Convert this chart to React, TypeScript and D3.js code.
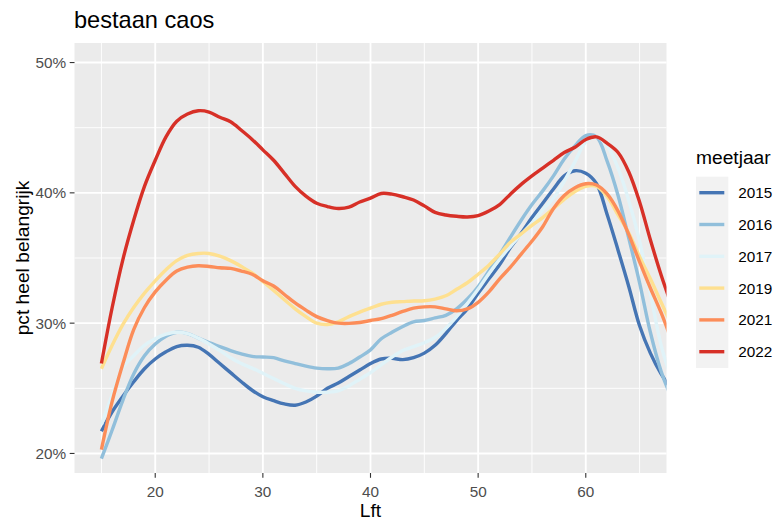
import React from 'react';
import * as d3 from 'd3';

const ages = [15, 16, 17, 18, 19, 20, 21, 22, 23, 24, 25, 26, 27, 28, 29, 30, 31, 32, 33, 34, 35, 36, 37, 38, 39, 40, 41, 42, 43, 44, 45, 46, 47, 48, 49, 50, 51, 52, 53, 54, 55, 56, 57, 58, 59, 60, 61, 62, 63, 64, 65, 66, 67, 68];

const v2015 = [21.7, 23.2, 24.4, 25.5, 26.5, 27.25, 27.8, 28.2, 28.3, 28.15, 27.6, 26.9, 26.2, 25.5, 24.85, 24.35, 24.05, 23.8, 23.7, 23.95, 24.4, 25.0, 25.4, 25.9, 26.4, 26.9, 27.25, 27.3, 27.2, 27.35, 27.7, 28.3, 29.2, 30.2, 31.1, 32.3, 33.4, 34.5, 35.8, 36.9, 38.1, 39.2, 40.3, 41.3, 41.7, 41.5, 40.7, 38.3, 35.6, 32.8, 29.8, 27.7, 26.1, 24.9];
const v2016 = [19.6, 21.8, 24.1, 26.1, 27.5, 28.4, 29.0, 29.3, 29.2, 28.85, 28.5, 28.2, 27.9, 27.65, 27.45, 27.4, 27.35, 27.1, 26.9, 26.7, 26.55, 26.5, 26.55, 26.9, 27.4, 27.95, 28.8, 29.3, 29.75, 30.1, 30.2, 30.4, 30.6, 31.1, 31.85, 32.8, 34.0, 35.25, 36.6, 37.9, 39.1, 40.15, 41.3, 42.6, 43.6, 44.4, 44.3, 42.4, 39.8, 36.5, 33.1, 29.3, 26.3, 24.2];
const v2017 = [22.2, 24.5, 26.6, 27.5, 28.3, 28.8, 29.15, 29.3, 29.2, 28.85, 28.4, 27.9, 27.35, 26.9, 26.55, 26.15, 25.75, 25.35, 25.0, 24.8, 24.7, 24.7, 24.8, 25.2, 25.7, 26.2, 26.8, 27.4, 27.9, 28.2, 28.5, 28.9, 29.6, 30.5, 31.5, 32.6, 33.8, 34.9, 35.9, 36.8, 37.7, 38.7, 39.6, 40.9, 42.4, 43.9, 44.3, 43.6, 41.9, 39.4, 36.3, 32.3, 28.3, 25.6];
const v2019 = [26.5, 28.3, 29.9, 31.2, 32.3, 33.25, 34.1, 34.8, 35.2, 35.35, 35.35, 35.15, 34.8, 34.35, 33.85, 33.2, 32.5, 31.8, 31.1, 30.5, 30.0, 29.9, 30.1, 30.5, 30.85, 31.15, 31.45, 31.6, 31.65, 31.7, 31.72, 31.85, 32.1, 32.6, 33.1, 33.75, 34.45, 35.3, 36.2, 36.85, 37.5, 38.1, 38.8, 39.5, 40.1, 40.5, 40.5, 39.7, 38.3, 36.9, 35.1, 33.4, 31.6, 29.8];
const v2021 = [20.3, 24.0, 26.9, 29.5, 31.2, 32.4, 33.3, 34.0, 34.3, 34.4, 34.35, 34.25, 34.2, 34.0, 33.75, 33.25, 32.85, 32.2, 31.55, 31.0, 30.5, 30.2, 30.0, 29.98, 30.05, 30.2, 30.35, 30.6, 30.9, 31.15, 31.25, 31.25, 31.1, 30.95, 31.1, 31.6, 32.4, 33.4, 34.3, 35.3, 36.3, 37.4, 38.8, 39.8, 40.4, 40.7, 40.6, 39.9, 38.6, 36.8, 34.7, 32.7, 30.8, 28.6];
const v2022 = [26.9, 31.2, 34.9, 37.9, 40.5, 42.5, 44.3, 45.5, 46.05, 46.3, 46.2, 45.8, 45.45, 44.8, 44.1, 43.3, 42.5, 41.5, 40.5, 39.75, 39.2, 38.95, 38.8, 38.9, 39.3, 39.6, 39.95, 39.9, 39.7, 39.45, 39.0, 38.5, 38.3, 38.2, 38.15, 38.25, 38.6, 39.1, 39.9, 40.65, 41.3, 41.9, 42.5, 43.1, 43.5, 44.1, 44.3, 43.8, 43.1, 41.6, 39.3, 36.4, 33.7, 31.3];

const years = ['2015', '2016', '2017', '2019', '2021', '2022'];
const seriesValues = [v2015, v2016, v2017, v2019, v2021, v2022];
const colors = ['#4575B4', '#91BFDB', '#E0F3F8', '#FEE090', '#FC8D59', '#D73027'];

const xMajor = [20, 30, 40, 50, 60];
const xMinor = [15, 25, 35, 45, 55, 65];
const yMajor = [0.2, 0.3, 0.4, 0.5];
const yMinor = [0.25, 0.35, 0.45];

const title = 'bestaan caos';
const xTitle = 'Lft';
const yTitle = 'pct heel belangrijk';
const legendTitle = 'meetjaar';

const W = 780;
const H = 521;
const panel = { left: 74.5, right: 666.5, top: 43, bottom: 473 };
const FONT = "'Liberation Sans', Arial, Helvetica, sans-serif";

export default function App() {
  const x = d3.scaleLinear().domain([12.5, 67.5]).range([panel.left, panel.right]);
  const y = d3.scaleLinear().domain([0.185, 0.515]).range([panel.bottom, panel.top]);
  const line = d3
    .line<[number, number]>()
    .x((d) => x(d[0]))
    .y((d) => y(d[1] / 100))
    .curve(d3.curveCatmullRom.alpha(0.5));
  const pct = d3.format('.0%');

  const legendX = 696;
  const legendRow0 = 192.7;
  const legendStep = 31.8;

  return (
    <svg
      width={W}
      height={H}
      viewBox={`0 0 ${W} ${H}`}
      style={{ position: 'absolute', left: 0, top: 0, background: '#fff' }}
      fontFamily={FONT}
    >
      <defs>
        <clipPath id="panelClip">
          <rect x={panel.left} y={panel.top} width={panel.right - panel.left} height={panel.bottom - panel.top} />
        </clipPath>
      </defs>
      <rect x={0} y={0} width={W} height={H} fill="#fff" />
      <text x={74} y={28} fontSize={23.6} fill="#000">{title}</text>

      <rect x={panel.left} y={panel.top} width={panel.right - panel.left} height={panel.bottom - panel.top} fill="#EBEBEB" />
      {yMinor.map((v) => (
        <line key={'ym' + v} x1={panel.left} x2={panel.right} y1={y(v)} y2={y(v)} stroke="#fff" strokeWidth={0.9} />
      ))}
      {xMinor.map((v) => (
        <line key={'xm' + v} x1={x(v)} x2={x(v)} y1={panel.top} y2={panel.bottom} stroke="#fff" strokeWidth={0.9} />
      ))}
      {yMajor.map((v) => (
        <line key={'yM' + v} x1={panel.left} x2={panel.right} y1={y(v)} y2={y(v)} stroke="#fff" strokeWidth={1.85} />
      ))}
      {xMajor.map((v) => (
        <line key={'xM' + v} x1={x(v)} x2={x(v)} y1={panel.top} y2={panel.bottom} stroke="#fff" strokeWidth={1.85} />
      ))}

      <g clipPath="url(#panelClip)">
        {seriesValues.map((vals, i) => (
          <path
            key={years[i]}
            d={line(ages.map((a, j) => [a, vals[j]] as [number, number])) || ''}
            fill="none"
            stroke={colors[i]}
            strokeWidth={3.4}
            strokeLinejoin="round"
            strokeLinecap="butt"
          />
        ))}
      </g>

      {yMajor.map((v) => (
        <g key={'yt' + v}>
          <line x1={panel.left - 4.8} x2={panel.left} y1={y(v)} y2={y(v)} stroke="#333" strokeWidth={1.1} />
          <text x={panel.left - 8.5} y={y(v)} dy="0.36em" textAnchor="end" fontSize={15.3} fill="#4D4D4D">
            {pct(v)}
          </text>
        </g>
      ))}
      {xMajor.map((v) => (
        <g key={'xt' + v}>
          <line x1={x(v)} x2={x(v)} y1={panel.bottom} y2={panel.bottom + 4.8} stroke="#333" strokeWidth={1.1} />
          <text x={x(v)} y={panel.bottom + 23.5} textAnchor="middle" fontSize={15.3} fill="#4D4D4D">
            {v}
          </text>
        </g>
      ))}

      <text x={(panel.left + panel.right) / 2} y={517} textAnchor="middle" fontSize={19.2} fill="#000">
        {xTitle}
      </text>
      <text
        transform={`translate(29,${(panel.top + panel.bottom) / 2}) rotate(-90)`}
        textAnchor="middle"
        fontSize={19.2}
        fill="#000"
      >
        {yTitle}
      </text>

      <text x={legendX} y={164} fontSize={19.2} fill="#000">{legendTitle}</text>
      <rect x={legendX} y={176.7} width={32.3} height={191.3} fill="#F2F2F2" />
      {years.map((yr, i) => {
        const cy = legendRow0 + i * legendStep;
        return (
          <g key={'lg' + yr}>
            <line x1={legendX + 3.3} x2={legendX + 28.3} y1={cy} y2={cy} stroke={colors[i]} strokeWidth={3.4} />
            <text x={738.3} y={cy} dy="0.36em" fontSize={15.3} fill="#000">{yr}</text>
          </g>
        );
      })}
    </svg>
  );
}
